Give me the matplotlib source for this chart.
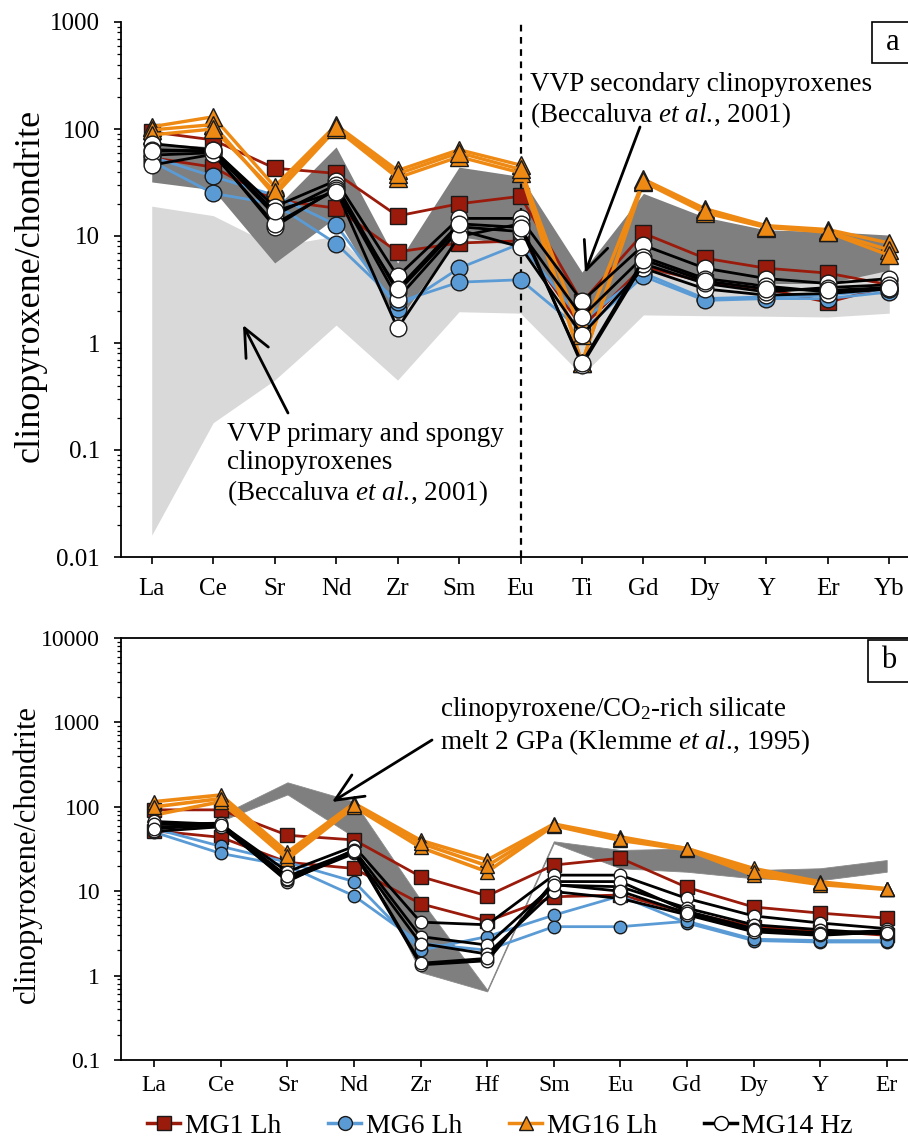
import numpy as np
import matplotlib
matplotlib.use('Agg')
import matplotlib.pyplot as plt
import matplotlib.ticker as ticker
from matplotlib.lines import Line2D
from matplotlib.patches import Rectangle

plt.rcParams['font.family'] = ['Liberation Serif', 'DejaVu Serif']
plt.rcParams['mathtext.fontset'] = 'custom'
plt.rcParams['mathtext.rm'] = 'Liberation Serif'
plt.rcParams['mathtext.it'] = 'Liberation Serif:italic'

# ---- data, panel a ----
elements_a = ['La', 'Ce', 'Sr', 'Nd', 'Zr', 'Sm', 'Eu', 'Ti', 'Gd', 'Dy', 'Y', 'Er', 'Yb']

mg1_a = [
    [94, 79, 43, 38.5, 15.4, 20, 23.5, 2.4, 10.6, 6.2, 5.0, 4.5, 3.5],
    [54, 44, 21.7, 18.2, 7.1, 8.6, 9.0, 1.4, 5.2, 3.7, 3.2, 2.4, 3.4],
]
mg6_a = [
    [55, 36, 24, 12.7, 2.1, 5.0, 8.5, 1.6, 4.5, 2.6, 2.7, 2.8, 3.2],
    [50, 25, 20, 8.5, 2.4, 3.7, 3.9, 1.3, 4.2, 2.5, 2.6, 2.6, 3.0],
]
mg16_a = [
    [105, 130, 29, 109, 41, 64, 46, 0.65, 34, 18, 12.5, 11.5, 8.6],
    [98, 110, 24, 100, 35, 55, 39, 0.65, 32, 16.5, 12, 11, 7.4],
    [88, 100, 26, 105, 38, 60, 42, 1.2, 33, 17, 12.2, 10.8, 6.6],
]
mg14_a = [
    [73, 64, 18.8, 33, 4.2, 14.6, 14.6, 2.45, 8.2, 5.0, 4.0, 3.6, 4.0],
    [64, 62, 15.7, 30, 3.0, 12.2, 11, 1.76, 6.4, 4.0, 3.4, 3.0, 3.2],
    [57, 60, 12.2, 28, 2.6, 11.4, 7.9, 1.19, 5.0, 3.2, 2.8, 2.9, 3.2],
    [46, 58, 13, 27, 1.37, 9.9, 13, 0.62, 5.5, 3.6, 3.0, 3.3, 3.5],
    [62, 63, 17, 26, 3.2, 13, 12, 0.65, 6.0, 3.8, 3.2, 3.1, 3.3],
]
# VVP secondary cpx field (dark) and primary/spongy field (light)
sec_upper = [74, 68, 18, 68, 5.6, 44, 36, 4.6, 25, 15, 11.4, 11, 10.2]
sec_lower = [32, 27, 5.6, 15, 1.6, 9.9, 8, 1.5, 4.8, 3.9, 3.6, 3.6, 4.8]
prim_upper = [19, 15.5, 8, 10, 3, 12, 12, 2.5, 6, 4.5, 4, 4, 5]
prim_lower = [0.016, 0.18, 0.45, 1.47, 0.45, 1.96, 1.9, 0.5, 1.83, 1.8, 1.78, 1.75, 1.9]

# ---- data, panel b ----
elements_b = ['La', 'Ce', 'Sr', 'Nd', 'Zr', 'Hf', 'Sm', 'Eu', 'Gd', 'Dy', 'Y', 'Er']

mg1_b = [
    [92, 92, 46, 40.5, 14.9, 8.8, 20.4, 24.6, 11.1, 6.5, 5.5, 4.8],
    [52, 43.5, 22, 18.6, 7.1, 4.4, 8.6, 9.0, 5.6, 3.8, 3.4, 3.0],
]
mg6_b = [
    [55, 34, 22, 13, 2.0, 2.9, 5.2, 8.8, 4.2, 2.6, 2.5, 2.5],
    [50, 28, 20, 8.8, 2.4, 2.0, 3.8, 3.8, 4.4, 2.7, 2.6, 2.6],
]
mg16_b = [
    [115, 138, 29, 110, 40, 23.4, 62.5, 44, 32, 18.6, 12.9, 10.7],
    [80, 115, 24, 100, 33, 17, 60, 40, 31, 15.5, 12, 10.5],
    [100, 125, 26, 104, 37, 20, 61, 42, 32, 17, 12.5, 10.6],
]
mg14_b = [
    [67, 62, 17, 34, 4.3, 4.0, 15.5, 15.5, 8.2, 5.1, 4.2, 3.6],
    [58, 60, 13, 31, 2.9, 2.3, 11.8, 11.3, 6.3, 4.0, 3.5, 3.1],
    [51, 58, 13.5, 28, 2.4, 1.8, 9.9, 8.2, 5.25, 3.3, 3.0, 3.3],
    [62, 64, 14, 29, 1.34, 1.5, 13, 13, 5.8, 3.6, 3.2, 3.4],
    [55, 61, 15, 30, 1.4, 1.6, 12, 10, 5.5, 3.5, 3.1, 3.2],
]
# Klemme et al. 1995 field, Ce..Er
klemme_upper = [80, 195, 115, 7.9, 0.68, 39, 30.8, 32, 17.8, 18.7, 23.4]
klemme_lower = [68, 140, 44, 1.1, 0.65, 37, 18.7, 17, 14.2, 13.5, 17]

RED = '#9a1b0b'
BLUE = '#5b9bd5'
ORANGE = '#ee8a14'

W, H = 908, 1144
fig = plt.figure(figsize=(W / 100, H / 100), dpi=100)


def fpx(x, y):
    # figure pixel (from top-left) -> figure fraction
    return (x / W, 1 - y / H)


def px_axes(left, top, right, bottom):
    return fig.add_axes([left / W, 1 - bottom / H, (right - left) / W, (bottom - top) / H])


ax_a = px_axes(121, 22, 920, 557)
ax_b = px_axes(121, 638, 920, 1060)


def draw(ax, rows, color, marker, ms, face, lw=2.0):
    for r in rows:
        x = np.arange(len(r))
        ax.plot(x, r, color=color, lw=lw, marker=marker, ms=ms, mfc=face,
                mec='#1a1a1a', mew=1.0, zorder=3)


def style_axis(ax, labels, ylim, ticks, tick_fs, top_spine, xpad):
    ax.set_yscale('log')
    ax.set_ylim(*ylim)
    ax.set_xlim(-0.5, len(labels) - 0.5)
    ax.set_xticks(np.arange(len(labels)))
    ax.set_xticklabels(labels, fontsize=tick_fs)
    ax.set_yticks(ticks)
    ax.set_yticklabels([('%g' % t) for t in ticks], fontsize=tick_fs)
    ax.yaxis.set_minor_locator(ticker.LogLocator(base=10, subs=np.arange(2, 10), numticks=20))
    ax.yaxis.set_minor_formatter(ticker.NullFormatter())
    ax.tick_params(axis='both', which='major', direction='out', length=5, width=1.2)
    ax.tick_params(axis='x', pad=xpad)
    ax.tick_params(axis='y', pad=10)
    ax.tick_params(axis='y', which='minor', direction='out', length=3, width=0.9)
    ax.spines['right'].set_visible(False)
    ax.spines['top'].set_visible(top_spine)
    for s in ax.spines.values():
        s.set_linewidth(1.3)


# ---------- panel a ----------
xa = np.arange(len(elements_a))
ax_a.fill_between(xa, prim_lower, prim_upper, color='#d9d9d9', lw=0, zorder=1)
ax_a.fill_between(xa, sec_lower, sec_upper, color='#7f7f7f', lw=0, zorder=1.5)
ax_a.axvline(elements_a.index('Eu'), color='black', lw=1.6, ls=(0, (3, 2.5)), zorder=2)
draw(ax_a, mg1_a, RED, 's', 12, RED)
draw(ax_a, mg6_a, BLUE, 'o', 12, BLUE)
draw(ax_a, mg16_a, ORANGE, '^', 13, ORANGE, lw=2.4)
draw(ax_a, mg14_a, 'black', 'o', 12, 'white')
style_axis(ax_a, elements_a, (0.01, 1000), [0.01, 0.1, 1, 10, 100, 1000], 18, False, 10)

# ---------- panel b ----------
xb = np.arange(1, len(elements_b))
ax_b.fill_between(xb, klemme_lower, klemme_upper, color='#7f7f7f', lw=0.6,
                  edgecolor='#8a8a8a', zorder=1)
draw(ax_b, mg1_b, RED, 's', 9.5, RED)
draw(ax_b, mg6_b, BLUE, 'o', 9, BLUE)
draw(ax_b, mg16_b, ORANGE, '^', 10, ORANGE, lw=2.6)
draw(ax_b, mg14_b, 'black', 'o', 9, 'white')
style_axis(ax_b, elements_b, (0.1, 10000), [0.1, 1, 10, 100, 1000, 10000], 17, True, 6)

# axis titles
fig.text(*fpx(30, 285), 'clinopyroxene/chondrite', rotation=90, fontsize=26,
         ha='center', va='center')
fig.text(*fpx(27, 854), 'clinopyroxene/chondrite', rotation=90, fontsize=22,
         ha='center', va='center')

# annotations
ETAL = r'$\mathit{et\ al.}\!$'
arrow = dict(arrowstyle='->,head_length=1.0,head_width=0.45', lw=2, color='black',
             shrinkA=0, shrinkB=0, mutation_scale=20)
fig.text(*fpx(530, 101), 'VVP secondary clinopyroxenes\n(Beccaluva ' + ETAL + ', 2001)',
         fontsize=19.5, ha='left', va='center', linespacing=1.15)
ax_a.annotate('', xy=fpx(585, 273), xycoords='figure fraction',
              xytext=fpx(640, 127), textcoords='figure fraction', arrowprops=arrow)

fig.text(*fpx(227, 465), 'VVP primary and spongy\nclinopyroxenes\n(Beccaluva ' + ETAL + ', 2001)',
         fontsize=19.5, ha='left', va='center', linespacing=1.15)
ax_a.annotate('', xy=fpx(243, 325), xycoords='figure fraction',
              xytext=fpx(288, 413), textcoords='figure fraction', arrowprops=arrow)

fig.text(*fpx(440, 726), 'clinopyroxene/CO$_2$-rich silicate\nmelt 2 GPa (Klemme ' + ETAL + ', 1995)',
         fontsize=19.5, ha='left', va='center', linespacing=1.15)
ax_b.annotate('', xy=fpx(332, 802), xycoords='figure fraction',
              xytext=fpx(432, 740), textcoords='figure fraction', arrowprops=arrow)

# panel letters
for (l, t, r, b), letter in [((872, 22, 930, 63), 'a'), ((868, 640, 930, 682), 'b')]:
    x0, y0 = fpx(l, b)
    fig.add_artist(Rectangle((x0, y0), (r - l) / W, (b - t) / H, transform=fig.transFigure,
                             facecolor='white', edgecolor='black', lw=1.2, zorder=5))
    fig.text(*fpx(l + 21, (t + b) / 2), letter, fontsize=22, ha='center', va='center', zorder=6)

# legend
handles = [
    Line2D([], [], color=RED, lw=2.5, marker='s', ms=10, mfc=RED, mec='#1a1a1a'),
    Line2D([], [], color=BLUE, lw=2.5, marker='o', ms=10, mfc=BLUE, mec='#1a1a1a'),
    Line2D([], [], color=ORANGE, lw=2.5, marker='^', ms=10, mfc=ORANGE, mec='#1a1a1a'),
    Line2D([], [], color='black', lw=2.5, marker='o', ms=10, mfc='white', mec='black'),
]
fig.legend(handles, ['MG1 Lh', 'MG6 Lh', 'MG16 Lh', 'MG14 Hz'], loc='center',
           bbox_to_anchor=fpx(500, 1126), ncol=4, frameon=False, fontsize=20,
           handlelength=1.2, handletextpad=0.15, columnspacing=1.7)

fig.savefig('out.png', dpi=100)
